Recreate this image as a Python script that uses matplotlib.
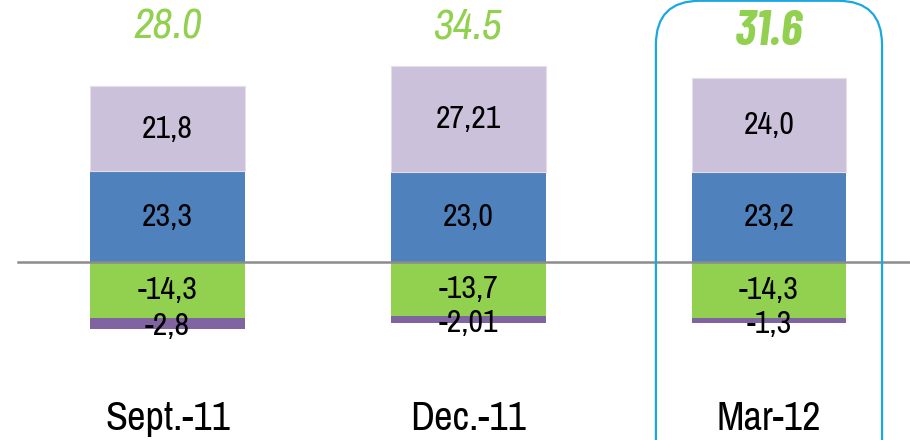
import matplotlib
matplotlib.use("Agg")
import matplotlib.pyplot as plt
from matplotlib.patches import FancyBboxPatch
import numpy as np

# data
categories = ["Sept.-11", "Dec.-11", "Mar-12"]
blue_vals = [23.3, 23.0, 23.2]
lav_vals = [21.8, 27.21, 24.0]
green_vals = [-14.3, -13.7, -14.3]
purple_vals = [-2.8, -2.01, -1.3]
blue_lbl = ["23,3", "23,0", "23,2"]
lav_lbl = ["21,8", "27,21", "24,0"]
green_lbl = ["-14,3", "-13,7", "-14,3"]
purple_lbl = ["-2,8", "-2,01", "-1,3"]
totals = ["28.0", "34.5", "31.6"]
highlight = 2

plt.rcParams['font.family'] = ['Archivo Narrow', 'Liberation Sans', 'DejaVu Sans']

W, H = 9.1, 4.4
fig = plt.figure(figsize=(W, H), dpi=100)
ax = fig.add_axes([0, 0, 1, 1])
xlim = (-0.557, 2.469)
ylim = (-45.6, 67.2)
ax.set_xlim(*xlim)
ax.set_ylim(*ylim)
ax.axis('off')

x = np.arange(len(categories))
w = 0.515
blue = np.array(blue_vals)
lav = np.array(lav_vals)
green = np.array(green_vals)
purple = np.array(purple_vals)

ax.bar(x, blue, w, color='#4F81BD', zorder=2)
ax.bar(x, lav, w, bottom=blue, color='#CCC1DA', edgecolor='#E4DEEC', lw=0.8, zorder=2)
ax.bar(x, green, w, color='#92D050', zorder=2)
ax.bar(x, purple, w, bottom=green, color='#8064A2', zorder=2)

ax.plot([-0.497, xlim[1]], [0, 0], color='#8C8C8C', lw=1.8, zorder=3)

tf = dict(ha='center', va='center', fontsize=23, color='black', zorder=4)
for i in range(len(x)):
    ax.text(x[i], blue[i] / 2, blue_lbl[i], **tf)
    ax.text(x[i], blue[i] + lav[i] / 2, lav_lbl[i], **tf)
    ax.text(x[i], green[i] / 2, green_lbl[i], **tf)
    ax.text(x[i], green[i] + purple[i] / 2 - 0.8, purple_lbl[i], **tf)
    if i == highlight:
        ax.text(x[i], 59.0, totals[i], ha='center', va='center', fontsize=36,
                style='italic', fontweight='bold', color='#92D050',
                family=['Barlow Condensed', 'Archivo Narrow', 'DejaVu Sans'])
    else:
        ax.text(x[i], 60.3, totals[i], ha='center', va='center', fontsize=31,
                style='italic', color='#92D050')
    ax.text(x[i], -40, categories[i], ha='center', va='center', fontsize=29)

# rounded highlight box round last category
px_x = W * 100 / (xlim[1] - xlim[0])
px_y = H * 100 / (ylim[1] - ylim[0])
half = 0.376
top = ylim[1] - 0.2
bot = ylim[0] - 20
r = 44 / px_x
box = FancyBboxPatch((x[highlight] - half, bot), 2 * half, top - bot,
                     boxstyle="round,pad=0,rounding_size=%f" % r,
                     mutation_aspect=px_x / px_y,
                     fill=False, edgecolor='#1BA8E0', lw=1.6, zorder=5,
                     clip_on=False)
ax.add_patch(box)

fig.savefig("out.png", dpi=100)
